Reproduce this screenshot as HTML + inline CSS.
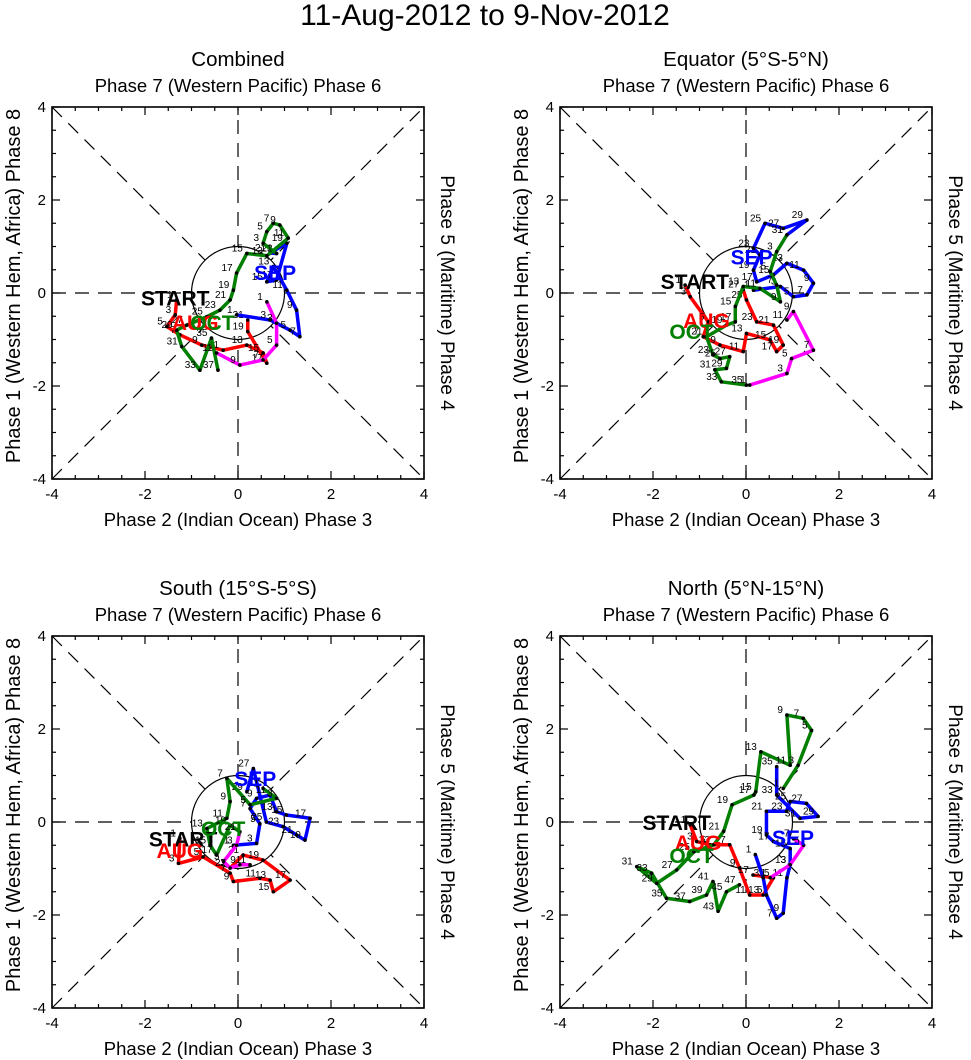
<!DOCTYPE html>
<html><head><meta charset="utf-8">
<style>
body{margin:0;background:#fff;}
svg{display:block;font-family:"Liberation Sans",sans-serif;}
</style></head>
<body>
<svg id="chart" width="971" height="1060" viewBox="0 0 971 1060" xmlns="http://www.w3.org/2000/svg">
<text x="485" y="25" font-size="30" text-anchor="middle">11-Aug-2012 to 9-Nov-2012</text>
</svg>
<script>
// ---- data (RMM1, RMM2) per panel and month ----
const panelTitles = ["Combined", "Equator (5°S-5°N)", "South (15°S-5°S)", "North (5°N-15°N)"];
const tickValues = [-4, -2, 0, 2, 4];
const tickLabels = ["-4", "-2", "0", "2", "4"];

const p1Aug = [[-1.32,-0.15],[-1.35,-0.47],[-1.53,-0.72],[-1.25,-0.9],[-0.78,-1.12],[-0.32,-1.23],[0.19,-1.12],[0.54,-1.29],[0.62,-1.51],[0.21,-0.83],[0.21,-0.58]];
const p1Sep = [[-0.03,-0.47],[0.69,-0.58],[1.12,-0.8],[1.33,-0.94],[1.26,-0.37],[1.05,0.06],[0.76,0.57],[0.62,0.24],[0.83,0.28],[1.05,1.07],[0.69,0.86],[0.83,0.85]];
const p1Oct = [[0.83,0.85],[0.54,1.07],[0.62,1.32],[0.76,1.5],[0.9,1.46],[1.08,1.18],[0.62,0.8],[0.19,0.85],[-0.03,0.43],[-0.1,0.06],[-0.17,-0.15],[-0.39,-0.37],[-0.67,-0.51],[-1.1,-0.69],[-1.32,-0.8],[-1.21,-1.15],[-0.82,-1.66],[-0.57,-0.97],[-0.43,-1.66]];
const p1Nov = [[0.62,-0.19],[0.83,-0.65],[0.83,-1.12],[0.54,-1.44],[0.04,-1.55],[-0.46,-1.29]];

const p2Aug = [[-1.31,0.17],[-1.2,-0.08],[-0.81,-0.62],[-0.92,-0.94],[-0.56,-1.12],[-0.06,-1.26],[0.01,-0.87],[0.52,-1.01],[0.66,-1.26],[0.8,-1.12],[0.59,-0.69],[0.23,-0.62],[0.01,-0.15],[-0.06,0.07]];
const p2Sep = [[0.16,0.06],[0.74,0.14],[1.02,-0.08],[1.31,-0.04],[1.45,0.21],[1.24,0.49],[0.88,0.64],[0.59,0.39],[0.23,0.24],[0.16,0.49],[0.3,0.82],[0.16,0.96],[0.41,1.5],[0.8,1.39],[1.31,1.57],[0.88,1.25]];
const p2Oct = [[0.88,1.25],[0.66,0.89],[0.52,0.46],[0.66,0.17],[0.74,-0.19],[0.3,0.1],[-0.06,0.14],[-0.23,-0.29],[-0.23,-0.62],[-0.42,-0.69],[-0.85,-0.94],[-0.71,-1.33],[-0.56,-1.41],[-0.35,-1.37],[-0.42,-1.62],[-0.67,-1.65],[-0.53,-1.91],[0.01,-1.98]];
const p2Nov = [[0.08,-1.98],[0.88,-1.73],[0.98,-1.41],[1.45,-1.23],[1.02,-0.4],[0.88,-0.58]];

const p3Aug = [[-1.25,-0.35],[-1.28,-0.89],[-0.75,-0.75],[-0.17,-1.1],[-0.1,-1.28],[0.47,-1.21],[0.69,-1.25],[0.76,-1.5],[1.12,-1.25],[0.54,-0.82],[0.11,-0.71],[-0.17,-0.99]];
const p3Sep = [[-0.1,-0.5],[0.4,-0.46],[0.47,-0.04],[0.26,0.29],[0.4,0.51],[0.69,0.58],[0.83,0.22],[1.04,0.15],[1.55,0.08],[1.44,-0.39],[1.26,-0.28],[0.97,-0.1],[0.61,0.0],[0.33,1.15],[0.19,0.65]];
const p3Oct = [[0.54,0.72],[0.83,0.51],[0.26,0.37],[-0.24,0.94],[-0.17,0.44],[-0.24,0.08],[-0.67,-0.14],[-0.6,-0.5],[-0.46,-0.71],[-0.17,-0.07],[0.04,-0.21]];
const p3Nov = [[0.04,-0.21],[-0.03,-0.5],[-0.31,-0.85],[-0.17,-0.99],[0.04,-0.92],[0.26,-0.92]];

const p4Aug = [[-1.2,-0.06],[-1.06,-0.42],[-0.78,-0.49],[-0.35,-0.49],[-0.14,-0.99],[0.08,-1.57],[0.37,-1.57],[0.59,-1.2],[0.15,-1.14]];
const p4Sep = [[0.2,-0.7],[0.37,-1.2],[0.44,-1.57],[0.66,-2.07],[0.8,-1.96],[0.88,-1.2],[0.95,-0.92],[0.95,-0.57],[0.59,-0.42],[0.44,-0.28],[0.44,0.23],[0.87,0.23],[0.95,0.44],[1.3,0.4],[1.55,0.12],[1.16,0.08],[0.66,0.58],[0.66,1.19]];
const p4Oct = [[0.8,0.72],[1.12,1.22],[1.41,1.97],[1.23,2.23],[0.88,2.3],[0.95,1.22],[0.32,1.51],[0.21,0.65],[0.17,0.58],[-0.3,0.37],[-0.48,-0.2],[-0.69,-0.49],[-1.12,-0.64],[-1.49,-1.03],[-1.92,-1.32],[-2.35,-0.96],[-2.03,-1.1],[-1.71,-1.64],[-1.21,-1.71],[-0.85,-1.57],[-0.71,-1.28],[-0.6,-1.92],[-0.42,-1.5],[-0.14,-1.35]];
const p4Nov = [[0.52,-1.2],[0.95,-0.92],[1.24,-0.5],[1.02,-0.36]];

const panelSeries = [[p1Aug,p1Sep,p1Oct,p1Nov],[p2Aug,p2Sep,p2Oct,p2Nov],[p3Aug,p3Sep,p3Oct,p3Nov],[p4Aug,p4Sep,p4Oct,p4Nov]];
const seriesNames = ["aug","sep","oct","nov"];
const seriesColors = ["#ff0000","#0000ff","#007f00","#ff00ff"];
// label anchor positions (data units): START, AUG, SEP, OCT
const startPos = [[-1.35,-0.1],[-1.1,0.26],[-1.18,-0.35],[-1.49,0.0]];
const augPos = [[-0.92,-0.62],[-0.85,-0.58],[-1.25,-0.6],[-1.03,-0.43]];
const sepPos = [[0.8,0.45],[0.12,0.78],[0.37,0.95],[1.01,-0.32]];
const octPos = [[-0.55,-0.62],[-1.17,-0.82],[-0.32,-0.13],[-1.17,-0.71]];

const NS="http://www.w3.org/2000/svg";
const svg=document.getElementById('chart');
function mk(tag,attrs,parent){const e=document.createElementNS(NS,tag);for(const k in attrs)e.setAttribute(k,attrs[k]);(parent||svg).appendChild(e);return e;}

const panelOrigins=[[52,107],[560,107],[52,636],[560,636]];
const S=372;
panelOrigins.forEach((o,pi)=>{
  const x0=o[0],y0=o[1];
  const sx=v=>x0+(v+4)/8*S;
  const sy=v=>y0+(4-v)/8*S;
  const g=mk('g',{});
  
  
  const t=mk('text',{x:x0+S/2,y:y0-41,'font-size':20.5,'text-anchor':'middle'},g);t.textContent=panelTitles[pi];
  
  
  const tt=mk('text',{x:x0+S/2,y:y0-15,'font-size':18.5,'text-anchor':'middle'},g);tt.textContent="Phase 7 (Western Pacific) Phase 6";
  
  
  const bt=mk('text',{x:x0+S/2,y:y0+S+47,'font-size':18.5,'text-anchor':'middle'},g);bt.textContent="Phase 2 (Indian Ocean) Phase 3";
  
  
  const lt=mk('text',{x:0,y:0,'font-size':20,'text-anchor':'middle',transform:`translate(${x0-32},${y0+S/2-7}) rotate(-90)`},g);lt.textContent="Phase 1 (Western Hem, Africa) Phase 8";
  
  
  const rt=mk('text',{x:0,y:0,'font-size':19,'text-anchor':'middle',transform:`translate(${x0+S+17},${y0+S/2}) rotate(90)`},g);rt.textContent="Phase 5 (Maritime) Phase 4";
  
  
  [[-4,-4,4,4],[-4,4,4,-4],[0,-4,0,4],[-4,0,4,0]].forEach(l=>{
    const d=mk('line',{x1:sx(l[0]),y1:sy(l[1]),x2:sx(l[2]),y2:sy(l[3]),stroke:'#000','stroke-width':1.2,'stroke-dasharray':'14,9'},g);
    
    
  });
  const c=mk('circle',{cx:sx(0),cy:sy(0),r:S/8,fill:'#fff',stroke:'#000','stroke-width':1.2},g);
  
  
  const f=mk('rect',{x:x0,y:y0,width:S,height:S,fill:'none',stroke:'#000','stroke-width':1.6},g);
  
  
  for(let v=-4;v<=4;v+=0.5){
    const major=(v%2===0);const L=major?8:4;
    [[sx(v),y0+S,sx(v),y0+S-L],[sx(v),y0,sx(v),y0+L],[x0,sy(v),x0+L,sy(v)],[x0+S,sy(v),x0+S-L,sy(v)]].forEach(a=>mk('line',{x1:a[0],y1:a[1],x2:a[2],y2:a[3],stroke:'#000','stroke-width':1.2},g));
  }
  tickValues.forEach((v,i)=>{
    const a=mk('text',{x:sx(v),y:y0+S+20,'font-size':15,'text-anchor':'middle'},g);a.textContent=tickLabels[i];
    
    
    const b=mk('text',{x:x0-6,y:sy(v)+5,'font-size':15,'text-anchor':'end'},g);b.textContent=tickLabels[i];
    
    
  });
  panelSeries[pi].forEach((ser,si)=>{
    const pl=mk('polyline',{points:ser.map(p=>sx(p[0])+','+sy(p[1])).join(' '),fill:'none',stroke:seriesColors[si],'stroke-width':3.5,'stroke-linejoin':'round'},g);
    
    
    ser.forEach((p,k)=>{
      const d=mk('circle',{cx:sx(p[0]),cy:sy(p[1]),r:1.8,fill:'#000'},g);
      
      
      const n=mk('text',{x:sx(p[0])-4,y:sy(p[1])-2,'font-size':10,'text-anchor':'end',fill:'#000'},g);
      n.textContent=String(k*2+1);
      
      
    });
  });
  const labs=[[startPos,'START','#000'],[augPos,'AUG','#ff0000'],[sepPos,'SEP','#0000ff'],[octPos,'OCT','#007f00']];
  labs.forEach(L=>{
    const p=L[0][pi];
    const e=mk('text',{x:sx(p[0]),y:sy(p[1])+8,'font-size':21,'font-weight':'bold','text-anchor':'middle',fill:L[2]},g);
    e.textContent=L[1];
    
    
  });
});
</script>
</body></html>
